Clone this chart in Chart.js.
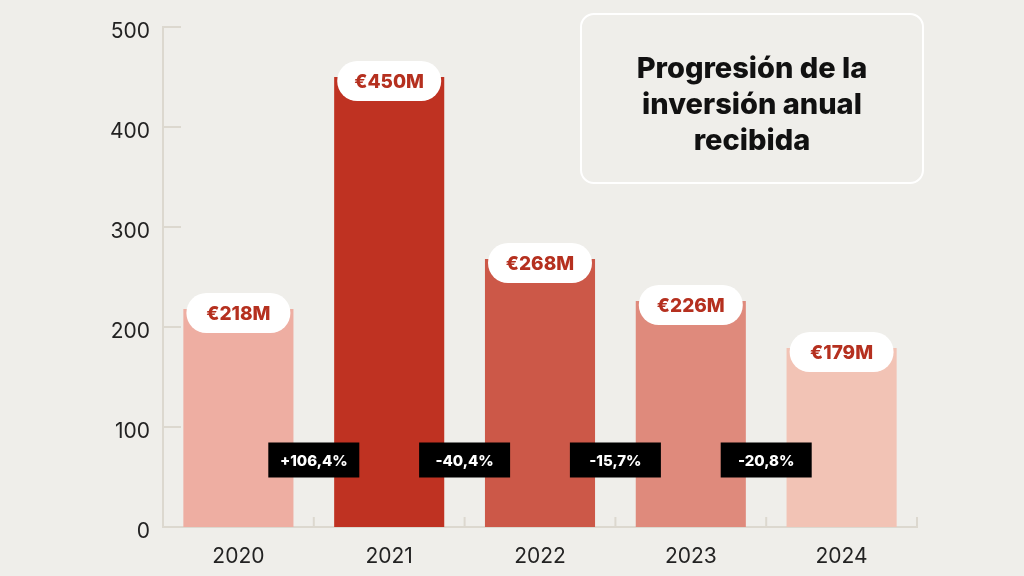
<!DOCTYPE html>
<html>
<head>
<meta charset="utf-8">
<script src="https://cdn.jsdelivr.net/npm/chart.js@4.4.1/dist/chart.umd.min.js"></script>
<style>
  html, body { margin: 0; padding: 0; background: #efeeea; }
  #wrap { position: relative; width: 1024px; height: 576px; }
  #titleBox {
    position: absolute; left: 580px; top: 13px; width: 344px; height: 171px;
    border: 2px solid #ffffff; border-radius: 14px; box-sizing: border-box; padding-top: 10px;
    display: flex; align-items: center; justify-content: center; text-align: center;
    font-family: Inter, "Noto Sans", sans-serif; font-weight: 800; font-size: 29px;
    line-height: 36px; color: #111; letter-spacing: 0px;
  }
</style>
</head>
<body>
<div id="wrap">
  <canvas id="investChart" width="1024" height="576"></canvas>
  <div id="titleBox">Progresión de la<br>inversión anual<br>recibida</div>
</div>
<script>
const years = ['2020', '2021', '2022', '2023', '2024'];
const investment = [218, 450, 268, 226, 179];
const valueLabels = ['€218M', '€450M', '€268M', '€226M', '€179M'];
const changeLabels = ['+106,4%', '-40,4%', '-15,7%', '-20,8%'];
const barColors = ['#eeaea2', '#bf3222', '#cc5848', '#df8a7c', '#f2c3b5'];
const yTicks = [0, 100, 200, 300, 400, 500];

const axisColor = '#dcd8cf';
const fontFamily = 'Inter, "Noto Sans", sans-serif';

function roundRect(ctx, x, y, w, h, r) {
  ctx.beginPath();
  ctx.moveTo(x + r, y);
  ctx.arcTo(x + w, y, x + w, y + h, r);
  ctx.arcTo(x + w, y + h, x, y + h, r);
  ctx.arcTo(x, y + h, x, y, r);
  ctx.arcTo(x, y, x + w, y, r);
  ctx.closePath();
}

// short inner ticks, value pills and change boxes
const labelsPlugin = {
  id: 'labelsPlugin',
  afterDatasetsDraw(chart) {
    const ctx = chart.ctx;
    const x = chart.scales.x;
    const y = chart.scales.y;
    const area = chart.chartArea;
    const step = x.getPixelForValue(1) - x.getPixelForValue(0);
    ctx.save();

    // y ticks pointing into the plot
    ctx.strokeStyle = axisColor;
    ctx.lineWidth = 2;
    yTicks.forEach(v => {
      const py = y.getPixelForValue(v);
      ctx.beginPath();
      ctx.moveTo(area.left, py);
      ctx.lineTo(area.left + 18, py);
      ctx.stroke();
    });
    // x ticks between categories
    years.forEach((yr, i) => {
      const px = x.getPixelForValue(i) + step / 2;
      ctx.beginPath();
      ctx.moveTo(px, area.bottom);
      ctx.lineTo(px, area.bottom - 10);
      ctx.stroke();
    });

    // value pills
    const meta = chart.getDatasetMeta(0);
    meta.data.forEach((bar, i) => {
      const w = 104, h = 40;
      const cx = bar.x, cy = bar.y + 4;
      ctx.fillStyle = '#ffffff';
      roundRect(ctx, cx - w / 2, cy - h / 2, w, h, h / 2);
      ctx.fill();
      ctx.fillStyle = '#b5301f';
      ctx.font = '800 19px ' + fontFamily;
      ctx.textAlign = 'center';
      ctx.textBaseline = 'middle';
      ctx.fillText(valueLabels[i], cx, cy + 1);
    });

    // change boxes between bars
    const cy = y.getPixelForValue(67);
    changeLabels.forEach((txt, i) => {
      const cx = x.getPixelForValue(i) + step / 2;
      const w = 91, h = 35;
      ctx.fillStyle = '#000000';
      ctx.fillRect(cx - w / 2, cy - h / 2, w, h);
      ctx.fillStyle = '#ffffff';
      ctx.font = '800 15px ' + fontFamily;
      ctx.textAlign = 'center';
      ctx.textBaseline = 'middle';
      ctx.fillText(txt, cx, cy + 1);
    });
    ctx.restore();
  }
};

new Chart(document.getElementById('investChart').getContext('2d'), {
  type: 'bar',
  data: {
    labels: years,
    datasets: [{
      data: investment,
      backgroundColor: barColors,
      borderWidth: 0,
      barPercentage: 1,
      categoryPercentage: 0.73
    }]
  },
  options: {
    responsive: false,
    animation: false,
    layout: { padding: { top: 27, right: 107, left: 0, bottom: 0 } },
    plugins: {
      legend: { display: false },
      tooltip: { enabled: false }
    },
    scales: {
      x: {
        grid: { display: false, drawTicks: false },
        border: { display: true, color: axisColor, width: 2 },
        ticks: { color: '#222', padding: 17, font: { family: fontFamily, size: 21 } },
        afterFit: s => { s.height = 49; }
      },
      y: {
        min: 0,
        max: 500,
        afterBuildTicks: s => { s.ticks = yTicks.map(v => ({ value: v })); },
        grid: { display: false, drawTicks: false },
        border: { display: true, color: axisColor, width: 2 },
        ticks: { color: '#222', padding: 13, labelOffset: 5, font: { family: fontFamily, size: 21 } },
        afterFit: s => { s.width = 163; }
      }
    }
  },
  plugins: [labelsPlugin]
});
</script>
</body>
</html>
